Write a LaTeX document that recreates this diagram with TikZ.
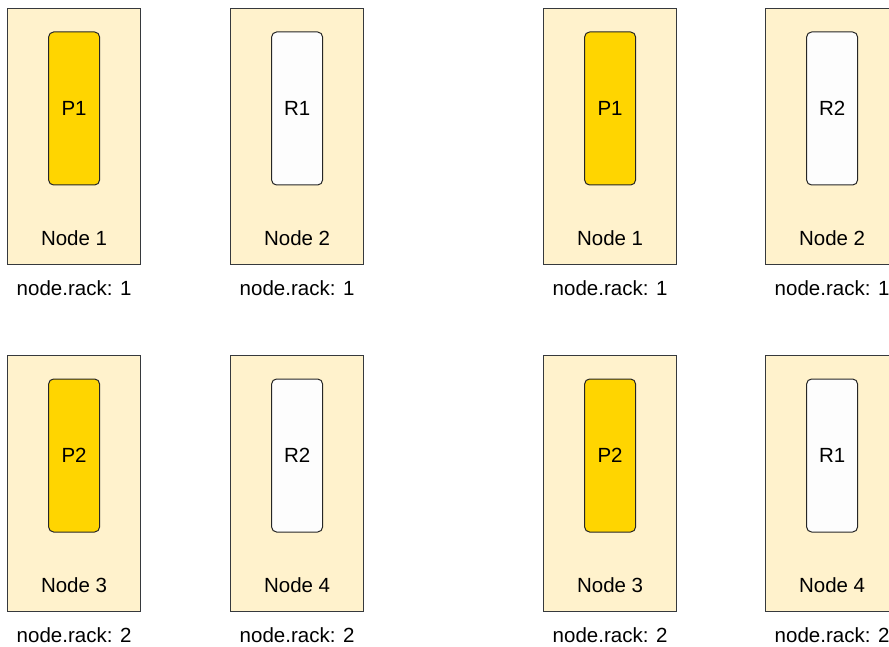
\documentclass[tikz,border=0pt]{standalone}
\usepackage{fontspec}
\setmainfont{Liberation Sans}
\definecolor{boxfill}{HTML}{FFF2CC}
\definecolor{boxline}{HTML}{36393D}
\definecolor{pfill}{HTML}{FFD500}
\definecolor{rfill}{HTML}{FDFDFD}
\begin{document}
\begin{tikzpicture}[x=1pt,y=-1pt,
  nodebox/.style={draw=boxline,fill=boxfill,line width=1.2pt,minimum width=133pt,minimum height=256pt,anchor=north west,inner sep=0pt},
  inner/.style={draw=black!85,line width=1pt,rounded corners=5pt,minimum width=51pt,minimum height=153pt,inner sep=0pt,font=\fontsize{20.5}{24}\selectfont},
  pbox/.style={inner,fill=pfill},
  rbox/.style={inner,fill=rfill},
  lbl/.style={font=\fontsize{20.5}{24}\selectfont,inner sep=0pt}]
\useasboundingbox (0,0) rectangle (889,647);
\fill[white] (0,0) rectangle (889,647);
\foreach \name/\x/\y/\kind/\txt/\nd/\rack in {
  a/7/8/pbox/P1/1/1, b/230/8/rbox/R1/2/1,
  c/7/355/pbox/P2/3/2, d/230/355/rbox/R2/4/2,
  e/543/8/pbox/P1/1/1, f/765/8/rbox/R2/2/1,
  g/543/355/pbox/P2/3/2, h/765/355/rbox/R1/4/2} {
  \node[nodebox] (box\name) at (\x,\y) {};
  \node[\kind] (in\name) at ([yshift=-100.5pt]box\name.north) {\txt};
  \node[lbl] (lab\name) at ([yshift=-230pt]box\name.north) {Node \nd};
  \node[lbl] (rack\name) at ([yshift=-280pt]box\name.north) {node.rack: \rack};
}
\end{tikzpicture}
\end{document}
